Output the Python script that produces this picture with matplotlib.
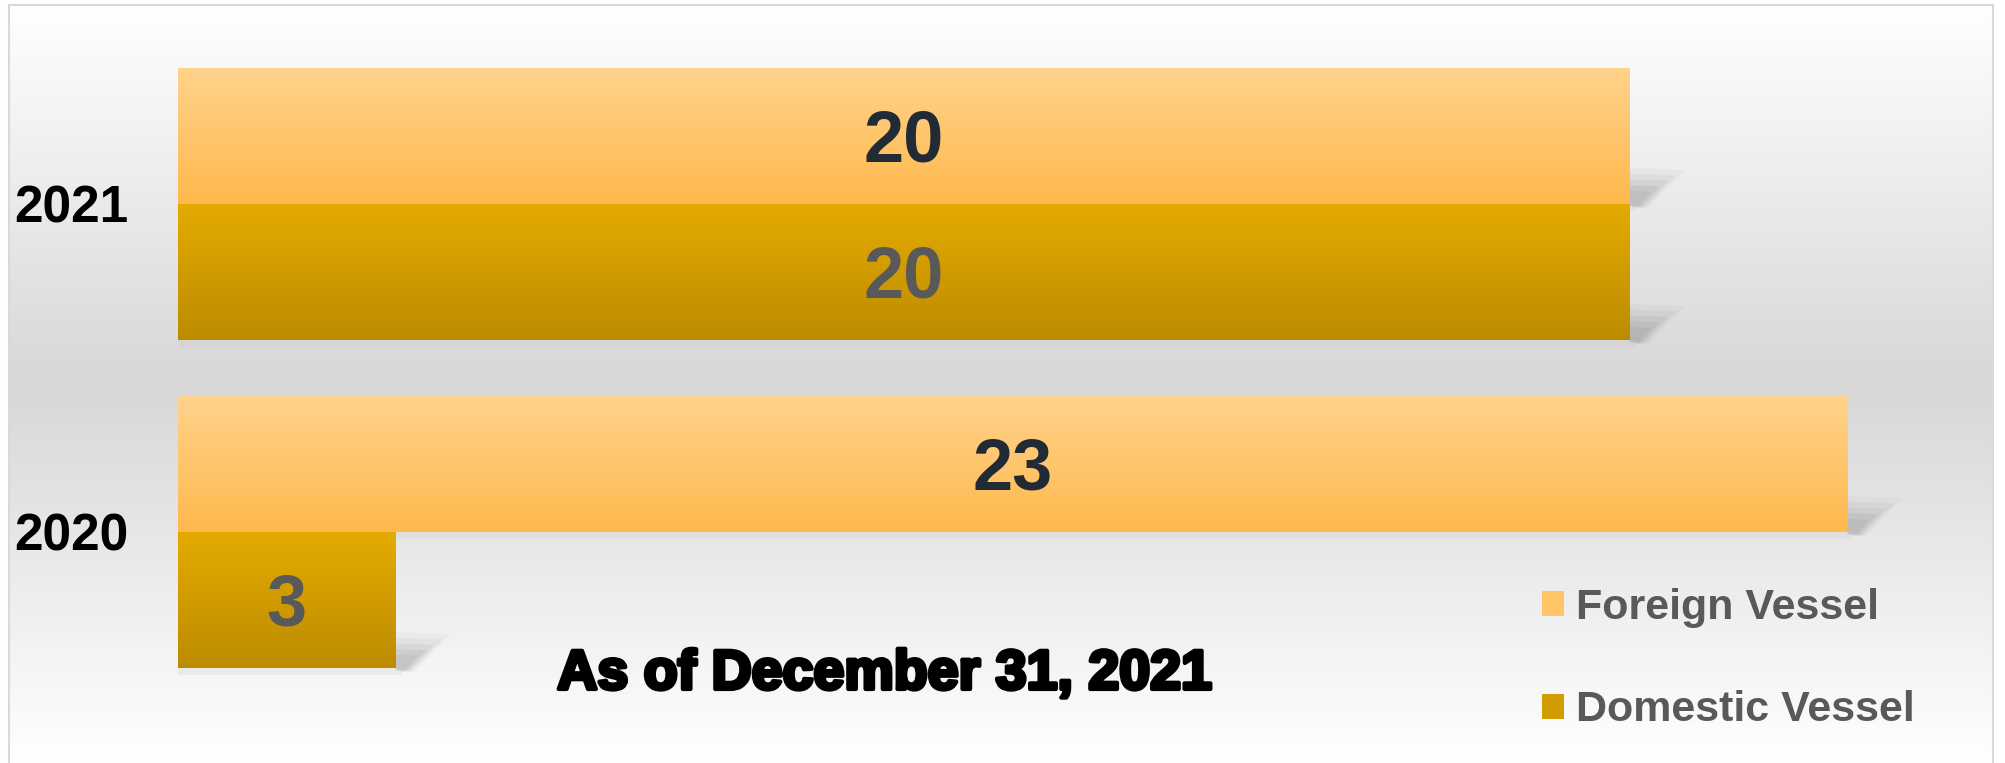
import numpy as np
import matplotlib.pyplot as plt
import matplotlib.patheffects as path_effects
from matplotlib.colors import LinearSegmentedColormap
from matplotlib.patches import Patch, Polygon, Rectangle

years = ['2020', '2021']
foreign = [23, 20]
domestic = [3, 20]
series_names = ['Foreign Vessel', 'Domestic Vessel']
note = 'As of December 31, 2021'

plt.rcParams['font.family'] = ['Liberation Sans', 'DejaVu Sans']

W, H = 2005, 763
fig = plt.figure(figsize=(W / 100, H / 100), dpi=100)

# chart area background: white -> grey -> white
bg = fig.add_axes([0, 0, 1, 1], zorder=-10)
bg.set_xlim(0, 1)
bg.set_ylim(0, 1)
bg.axis('off')
bg_cmap = LinearSegmentedColormap.from_list(
    'bg', [(0, '#ffffff'), (0.5, '#d7d7d7'), (1, '#ffffff')])
grad = np.linspace(0, 1, 256).reshape(-1, 1)
bg.imshow(grad, cmap=bg_cmap, aspect='auto', origin='upper',
          extent=[9 / W, 1993 / W, 0, 1 - 5 / H])
bg.add_patch(Rectangle((9 / W, -0.01), (1993 - 9) / W, 1 - 5 / H + 0.01,
                       fill=False, edgecolor='#d9d9d9', linewidth=1.5))

ax = fig.add_axes([178 / W, 67 / H, 1742 / W, 656 / H])
ax.set_xlim(0, 24)
ax.set_ylim(-0.5, 1.5)
ax.axis('off')
ax.patch.set_alpha(0)

px_x = 1742 / 24
px_y = 656 / 2.0
h = 136 / px_y
y = np.arange(len(years))

cmap_f = LinearSegmentedColormap.from_list('f', ['#ffd38c', '#ffb84c'])
cmap_d = LinearSegmentedColormap.from_list('d', ['#e4ab00', '#bd8b00'])


def shadow(x_right, y_bottom):
    # small skewed drop shadow at the right end of a bar
    for k, a in [(1.0, 0.06), (0.85, 0.08), (0.7, 0.1), (0.55, 0.12), (0.4, 0.1)]:
        pts = [(0, 4 * k), (0, 38 * k + 2), (55 * k, 36 * k + 2), (18 * k, 0)]
        pts = [(x_right + dx / px_x, y_bottom + (dy - 4) / px_y) for dx, dy in pts]
        ax.add_patch(Polygon(pts, closed=True, facecolor='#7f7f7f',
                             edgecolor='none', alpha=a, zorder=1))
    ax.add_patch(Rectangle((0, y_bottom - 7 / px_y), x_right + 6 / px_x, 7 / px_y,
                           facecolor='#bfbfbf', edgecolor='none', alpha=0.2, zorder=1))


bars_f = ax.barh(y + h / 2, foreign, height=h, color='none', zorder=2)
bars_d = ax.barh(y - h / 2, domestic, height=h, color='none', zorder=2)

for bars, cm in [(bars_f, cmap_f), (bars_d, cmap_d)]:
    for b in bars:
        x0, y0, bw, bh = b.get_x(), b.get_y(), b.get_width(), b.get_height()
        im = ax.imshow(grad, cmap=cm, aspect='auto', origin='upper',
                       extent=[x0, x0 + bw, y0, y0 + bh], zorder=2)
        im.set_clip_path(b)
        shadow(x0 + bw, y0)

ax.set_xlim(0, 24)
ax.set_ylim(-0.5, 1.5)

dy_lab = 6 / px_y
for b, v in zip(bars_f, foreign):
    ax.text(v / 2, b.get_y() + b.get_height() / 2 - dy_lab, str(v), ha='center',
            va='center', fontsize=52, fontweight='bold', color='#222a35', zorder=5)
for b, v in zip(bars_d, domestic):
    ax.text(v / 2, b.get_y() + b.get_height() / 2 - dy_lab, str(v), ha='center',
            va='center', fontsize=52, fontweight='bold', color='#595959', zorder=5)

for yi, lab in zip(y, years):
    ax.text(-50 / px_x, yi - 5 / px_y, lab, ha='right', va='center', fontsize=37,
            fontweight='bold', color='black')

handles = [Patch(facecolor='#ffc566', edgecolor='none'),
           Patch(facecolor='#d19c00', edgecolor='none')]
leg = fig.legend(handles, series_names, loc='upper left',
                 bbox_to_anchor=(1542 / W, 1 - 588 / H), frameon=False,
                 prop={'size': 31, 'weight': 'bold'}, labelcolor='#595959',
                 handlelength=0.52, handleheight=0.52, handletextpad=0.27,
                 labelspacing=1.45, borderpad=0, borderaxespad=0)

fig.text(884 / W, 1 - 675 / H, note, ha='center', va='center', fontsize=40,
         fontweight='bold', color='black',
         path_effects=[path_effects.withStroke(linewidth=3, foreground='black')])

fig.savefig('out.png', dpi=100)
